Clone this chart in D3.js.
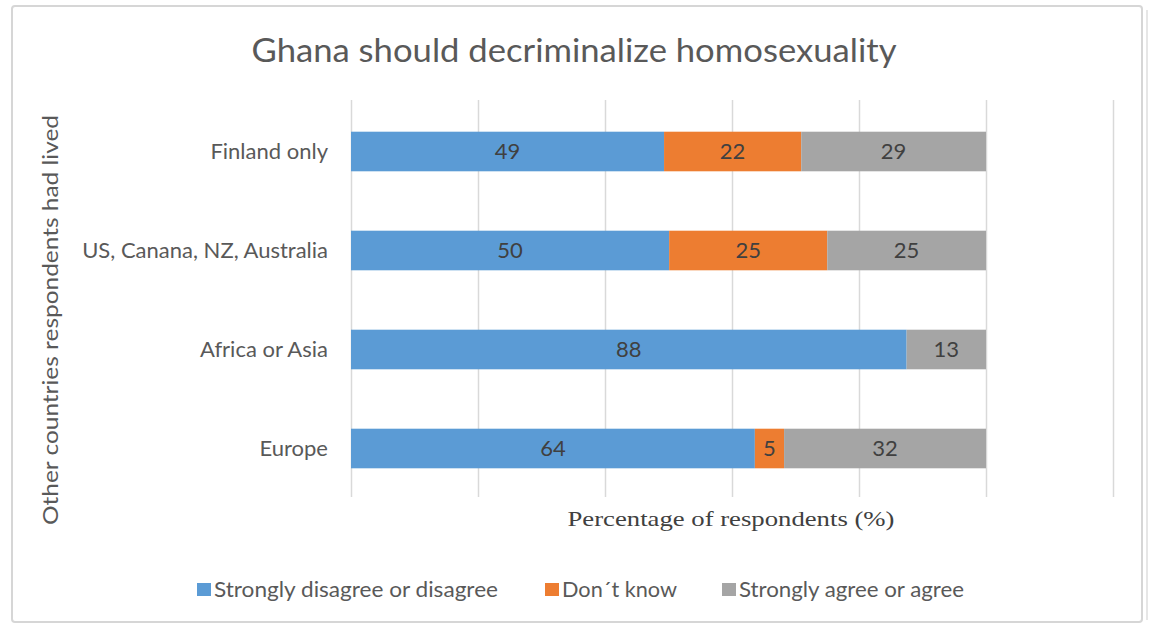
<!DOCTYPE html>
<html><head><meta charset="utf-8">
<script src="https://cdn.jsdelivr.net/npm/d3@7"></script>
<style>
html,body{margin:0;padding:0;background:#fff;}
svg{display:block;font-family:Lato,"Noto Sans",sans-serif;}
</style></head>
<body><svg id="c" width="1150" height="627"></svg>
<script>
const categories = ["Finland only", "US, Canana, NZ, Australia", "Africa or Asia", "Europe"];
const seriesNames = ["Strongly disagree or disagree", "Don\u00b4t know", "Strongly agree or agree"];
const disagree = [49.3, 50.1, 87.5, 63.6];
const dontKnow = [21.6, 24.9, 0, 4.6];
const agree    = [29.1, 25.0, 12.5, 31.8];
const xTicks = [0, 20, 40, 60, 80, 100, 120];
const colors = ["#5B9BD5", "#ED7D31", "#A5A5A5"];

const svg = d3.select("#c");
// frame
svg.append("rect").attr("x",1146).attr("y",10).attr("width",2).attr("height",610).attr("fill","#e6e6e6");
svg.append("rect").attr("x",12).attr("y",6).attr("width",1130).attr("height",616)
  .attr("fill","#fff").attr("stroke","#d6d6d6").attr("stroke-width",2).attr("rx",3);

const x = d3.scaleLinear().domain([0,120]).range([351,1113]);
const y = d3.scaleBand().domain(categories).range([102,498]).paddingInner(0.6).paddingOuter(0.3);

// gridlines through axis
const grid = svg.append("g").attr("transform","translate(0,497)")
  .call(d3.axisBottom(x).tickValues(xTicks).tickSize(-397).tickFormat(""));
grid.select(".domain").remove();
grid.selectAll(".tick line").attr("stroke","#d9d9d9").attr("stroke-width",1.5);

const rows = categories.map((c,i)=>({cat:c, vals:[disagree[i], dontKnow[i], agree[i]]}));
const segs = [];
rows.forEach(r=>{let s=0; r.vals.forEach((v,k)=>{segs.push({cat:r.cat,k,x0:s,x1:s+v,v}); s+=v;});});

svg.append("g").selectAll("rect").data(segs.filter(d=>d.v>0)).join("rect")
  .attr("x",d=>x(d.x0)).attr("width",d=>x(d.x1)-x(d.x0))
  .attr("y",d=>y(d.cat)).attr("height",y.bandwidth())
  .attr("fill",d=>colors[d.k]);

svg.append("g").selectAll("text").data(segs.filter(d=>d.v>0)).join("text")
  .attr("x",d=>(x(d.x0)+x(d.x1))/2).attr("y",d=>y(d.cat)+y.bandwidth()/2)
  .attr("dy","0.36em").attr("text-anchor","middle")
  .attr("font-size",22).attr("fill","#404040")
  .text(d=>Math.round(d.v));

// category axis
const ya = svg.append("g").attr("transform","translate(340,0)")
  .call(d3.axisLeft(y).tickSize(0).tickPadding(12));
ya.select(".domain").remove();
ya.selectAll("text").attr("font-size",22).attr("fill","#595959").attr("font-family","Lato,'Noto Sans',sans-serif");

// title
svg.append("text").attr("x",574).attr("y",62).attr("text-anchor","middle")
  .attr("font-size",32).attr("fill","#595959")
  .attr("textLength",645).attr("lengthAdjust","spacingAndGlyphs")
  .text("Ghana should decriminalize homosexuality");

// y title
svg.append("text").attr("transform","translate(58,320) rotate(-90)").attr("text-anchor","middle")
  .attr("font-size",21).attr("fill","#595959")
  .attr("textLength",410).attr("lengthAdjust","spacingAndGlyphs")
  .text("Other countries respondents had lived");

// x title
svg.append("text").attr("x",731).attr("y",526).attr("text-anchor","middle")
  .attr("font-family","'Liberation Serif','DejaVu Serif',serif")
  .attr("font-size",22).attr("fill","#404040")
  .attr("textLength",327).attr("lengthAdjust","spacingAndGlyphs")
  .text("Percentage of respondents (%)");

// legend
const legX = [197, 545, 722];
const legW = [284, 115, 225];
const leg = svg.append("g").selectAll("g").data(seriesNames).join("g")
  .attr("transform",(d,i)=>`translate(${legX[i]},590)`);
leg.append("rect").attr("x",0).attr("y",-7).attr("width",14).attr("height",13).attr("fill",(d,i)=>colors[i]);
leg.append("text").attr("x",17).attr("dy","0.35em").attr("font-size",21).attr("fill","#595959")
  .attr("textLength",(d,i)=>legW[i]).attr("lengthAdjust","spacingAndGlyphs").text(d=>d);
</script></body></html>
